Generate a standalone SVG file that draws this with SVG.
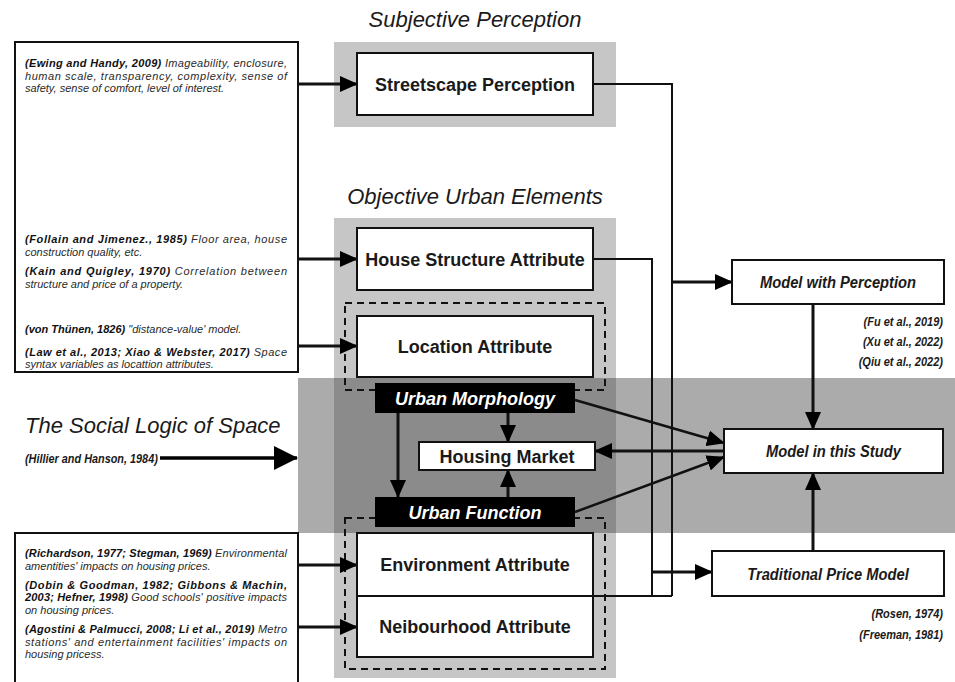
<svg xmlns="http://www.w3.org/2000/svg" width="955" height="682" viewBox="0 0 955 682">
<defs>
<style>
.t{font-family:"Liberation Sans",Arial,sans-serif;fill:#1a1a1a}
.lt{font-size:11px;font-style:italic;fill:#2a2a2a}
.b{font-weight:bold;fill:#111}
.title{font-size:22px;font-style:italic}
.node{fill:#fff;stroke:#111;stroke-width:2}
.nl{font-size:18px;font-weight:bold;text-anchor:middle}
.blk{fill:#000}
.wl{font-size:18px;font-weight:bold;font-style:italic;text-anchor:middle;fill:#fff}
.ml{font-size:16px;font-weight:bold;font-style:italic;text-anchor:middle}
.cite{font-size:12.5px;font-weight:bold;font-style:italic;text-anchor:end}
.dash{fill:none;stroke:#111;stroke-width:2;stroke-dasharray:7,5}
.ln{fill:none;stroke:#111;stroke-width:2}
.ar{fill:none;stroke:#111;stroke-width:3;marker-end:url(#ah)}
.ar2{fill:none;stroke:#111;stroke-width:2.5;marker-end:url(#ah)}
</style>
<marker id="ah" markerUnits="userSpaceOnUse" markerWidth="18" markerHeight="16" refX="17" refY="8" orient="auto">
<path d="M0,0 L18,8 L0,16 z" fill="#000"/>
</marker>
<marker id="bigah" markerUnits="userSpaceOnUse" markerWidth="24" markerHeight="24" refX="23" refY="12" orient="auto">
<path d="M0,0 L24,12 L0,24 z" fill="#000"/>
</marker>
</defs>
<rect width="955" height="682" fill="#fff"/>

<!-- backdrops -->
<g id="backdrops">
<rect x="334" y="42" width="282" height="85" fill="#c6c6c6"/>
<rect x="334" y="218" width="282" height="460" fill="#c6c6c6"/>
<rect x="298" y="378" width="657" height="155" fill="#ababab"/>
<rect x="334" y="378" width="282" height="155" fill="#8b8b8b"/>
</g>

<!-- titles -->
<text class="t title" x="475" y="27" text-anchor="middle">Subjective Perception</text>
<text class="t title" x="475" y="204" text-anchor="middle">Objective Urban Elements</text>
<text class="t title" x="25" y="433">The Social Logic of Space</text>
<text class="t cite" transform="translate(25,463) scale(0.87,1)" style="text-anchor:start">(Hillier and Hanson, 1984)</text>

<!-- left literature boxes -->
<g id="lit1">
<rect x="15" y="42" width="283" height="330" fill="#fff" stroke="#111" stroke-width="2"/>
<text class="t lt" x="25" y="67" textLength="262" lengthAdjust="spacing"><tspan class="b">(Ewing and Handy, 2009)</tspan> Imageability, enclosure,</text>
<text class="t lt" x="25" y="79.5" textLength="262" lengthAdjust="spacing">human scale, transparency, complexity, sense of</text>
<text class="t lt" x="25" y="92">safety, sense of comfort, level of interest.</text>
<text class="t lt" x="25" y="243" textLength="262" lengthAdjust="spacing"><tspan class="b">(Follain and Jimenez., 1985)</tspan> Floor area, house</text>
<text class="t lt" x="25" y="255.5">construction quality, etc.</text>
<text class="t lt" x="25" y="275" textLength="262" lengthAdjust="spacing"><tspan class="b">(Kain and Quigley, 1970)</tspan> Correlation between</text>
<text class="t lt" x="25" y="287.5">structure and price of a property.</text>
<text class="t lt" x="25" y="333"><tspan class="b">(von Thünen, 1826)</tspan> "distance-value' model.</text>
<text class="t lt" x="25" y="355.5" textLength="262" lengthAdjust="spacing"><tspan class="b">(Law et al., 2013; Xiao &amp; Webster, 2017)</tspan> Space</text>
<text class="t lt" x="25" y="368">syntax variables as locattion attributes.</text>
</g>
<g id="lit2">
<rect x="15" y="533" width="283" height="160" fill="#fff" stroke="#111" stroke-width="2"/>
<text class="t lt" x="25" y="557" textLength="262" lengthAdjust="spacing"><tspan class="b">(Richardson, 1977; Stegman, 1969)</tspan> Environmental</text>
<text class="t lt" x="25" y="569.5">amentities' impacts on housing prices.</text>
<text class="t lt" x="25" y="588.5" textLength="262" lengthAdjust="spacing"><tspan class="b">(Dobin &amp; Goodman, 1982; Gibbons &amp; Machin,</tspan></text>
<text class="t lt" x="25" y="601" textLength="262" lengthAdjust="spacing"><tspan class="b">2003; Hefner, 1998)</tspan> Good schools' positive impacts</text>
<text class="t lt" x="25" y="613.5">on housing prices.</text>
<text class="t lt" x="25" y="633" textLength="262" lengthAdjust="spacing"><tspan class="b">(Agostini &amp; Palmucci, 2008; Li et al., 2019)</tspan> Metro</text>
<text class="t lt" x="25" y="645.5" textLength="262" lengthAdjust="spacing">stations' and entertainment facilities' impacts on</text>
<text class="t lt" x="25" y="658">housing pricess.</text>
</g>

<!-- dashed groupings -->
<rect class="dash" x="345" y="303" width="260" height="87"/>
<rect class="dash" x="345" y="518" width="260" height="151"/>

<!-- connectors -->
<g id="connectors">
<path class="ar" d="M298,84 H357"/>
<path class="ar" d="M298,259 H357"/>
<path class="ar" d="M298,346 H357"/>
<path class="ar" d="M298,565 H357"/>
<path class="ar" d="M298,627 H357"/>
<path d="M160,458 H297" fill="none" stroke="#000" stroke-width="3.5" marker-end="url(#bigah)"/>
<path class="ln" d="M593,84 H672 V596"/>
<path class="ln" d="M593,259 H652 V596"/>
<path class="ln" d="M593,596 H672"/>
<path class="ar" d="M672,282 H732"/>
<path class="ar" d="M652,572 H712"/>
<path class="ar" d="M813,304 V429"/>
<path class="ar" d="M813,551 V473"/>
<path class="ar" d="M724,451 H595"/>
<path class="ar2" d="M575,400 L724,443"/>
<path class="ar2" d="M575,512 L724,457"/>
<path class="ar" d="M508,413 V442"/>
<path class="ar" d="M398,413 V497"/>
<path class="ar" d="M508,497 V470"/>
</g>

<!-- nodes -->
<g id="streetscape">
<rect class="node" x="357" y="53" width="236" height="62"/>
<text class="t nl" x="475" y="90.5">Streetscape Perception</text>
</g>
<g id="house-structure">
<rect class="node" x="357" y="228" width="236" height="62"/>
<text class="t nl" x="475" y="265.5">House Structure Attribute</text>
</g>
<g id="location">
<rect class="node" x="357" y="316" width="236" height="61"/>
<text class="t nl" x="475" y="353">Location Attribute</text>
</g>
<g id="urban-morphology">
<rect class="blk" x="375" y="383" width="200" height="30"/>
<text class="t wl" x="475" y="404.5">Urban Morphology</text>
</g>
<g id="housing-market">
<rect class="node" x="419" y="442" width="176" height="28"/>
<text class="t nl" x="507" y="462.5">Housing Market</text>
</g>
<g id="urban-function">
<rect class="blk" x="375" y="497" width="200" height="30"/>
<text class="t wl" x="475" y="518.5">Urban Function</text>
</g>
<g id="environment">
<rect class="node" x="357" y="533" width="236" height="63"/>
<text class="t nl" x="475" y="571">Environment Attribute</text>
</g>
<g id="neighbourhood">
<rect class="node" x="357" y="596" width="236" height="61"/>
<text class="t nl" x="475" y="633">Neibourhood Attribute</text>
</g>
<g id="model-perception">
<rect class="node" x="732" y="260" width="212" height="44"/>
<text class="t ml" transform="translate(838,288) scale(0.92,1)">Model with Perception</text>
</g>
<g id="model-study">
<rect class="node" x="724" y="429" width="219" height="44"/>
<text class="t ml" transform="translate(833.5,457) scale(0.92,1)">Model in this Study</text>
</g>
<g id="traditional">
<rect class="node" x="712" y="551" width="232" height="45"/>
<text class="t ml" transform="translate(828,579.5) scale(0.92,1)">Traditional Price Model</text>
</g>

<!-- citations -->
<text class="t cite" transform="translate(943,326) scale(0.88,1)">(Fu et al., 2019)</text>
<text class="t cite" transform="translate(943,345.5) scale(0.88,1)">(Xu et al., 2022)</text>
<text class="t cite" transform="translate(943,365.5) scale(0.88,1)">(Qiu et al., 2022)</text>
<text class="t cite" transform="translate(943,617.5) scale(0.88,1)">(Rosen, 1974)</text>
<text class="t cite" transform="translate(943,639) scale(0.88,1)">(Freeman, 1981)</text>
</svg>
